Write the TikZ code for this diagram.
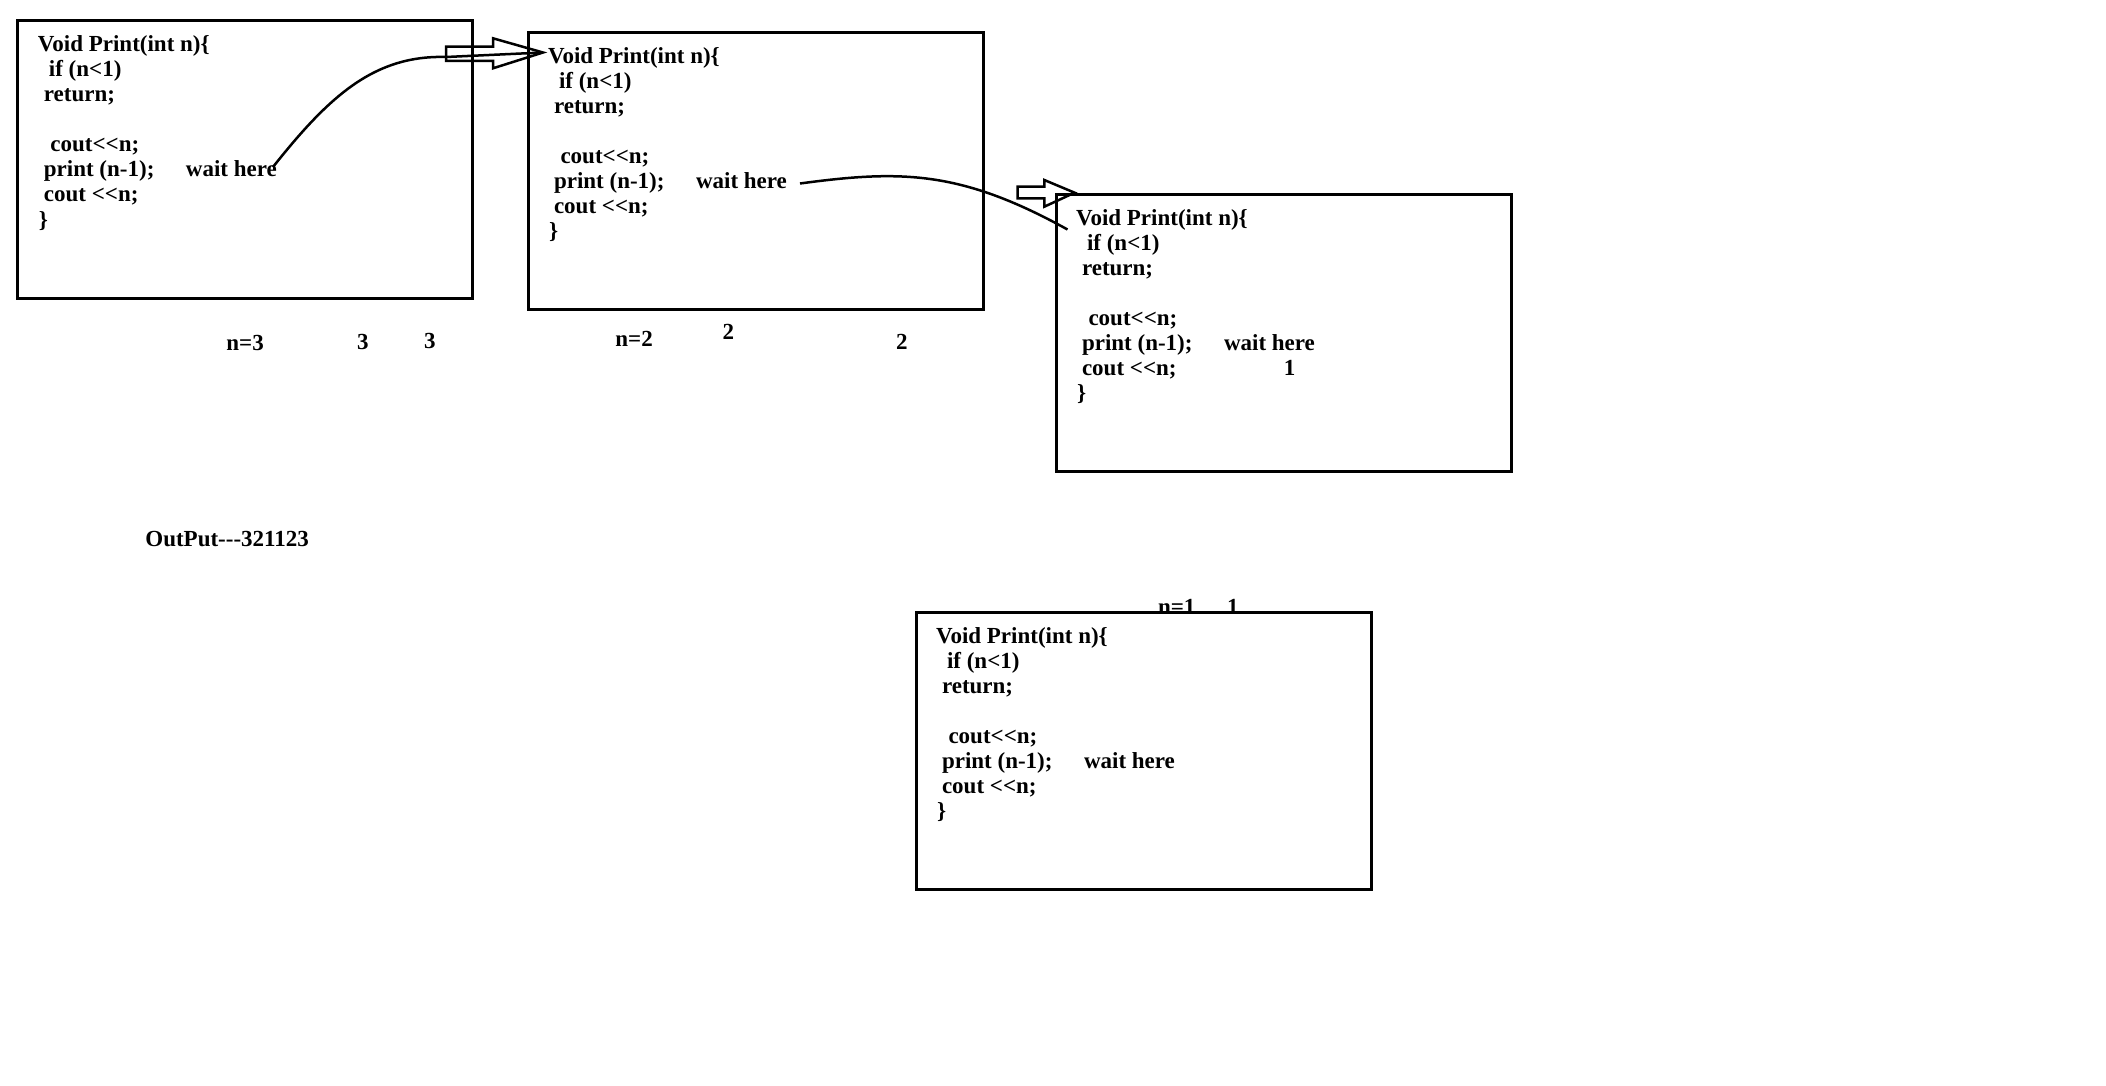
\documentclass[tikz,border=0pt]{standalone}
\usepackage{fontspec}
\newfontfamily\codefont{Liberation Serif}
\newcommand\codebox[3]{%
  \node[frame] (#1) at (#2,#3) {};
  \coordinate (#1o) at ([shift={(20,31)}]#1.north west);
  \node[code] (#1-1) at (#1o) {Void Print(int n)\{};
  \node[code] (#1-2) at ([shift={(11,25)}]#1o) {if (n<1)};
  \node[code] (#1-3) at ([shift={(6,50)}]#1o) {return;};
  \node[code] (#1-4) at ([shift={(12.5,100)}]#1o) {cout<{}<n;};
  \node[code] (#1-5) at ([shift={(6,125)}]#1o) {print (n-1);};
  \node[code] (#1-w) at ([shift={(148,125)}]#1o) {wait here};
  \node[code] (#1-6) at ([shift={(6,150)}]#1o) {cout <{}<n;};
  \node[code] (#1-7) at ([shift={(1,175)}]#1o) {\}};
}
\begin{document}
\begin{tikzpicture}[x=1pt,y=-1pt,
  frame/.style={draw, line width=3pt, minimum width=455pt, minimum height=277pt,
    inner sep=0pt, outer sep=0pt, anchor=north west},
  code/.style={anchor=base west, inner sep=0pt, outer sep=0pt,
    font=\codefont\bfseries\fontsize{23}{25}\selectfont},
  link/.style={line width=2.5pt},
  hollow/.style={draw, line width=2.5pt, line join=miter}]
\fill[white] (0,0) rectangle (2106,1086);
\useasboundingbox (0,0) rectangle (2106,1086);

\codebox{b1}{17.9}{21}
\codebox{b2}{528}{32.3}
\codebox{b3}{1056}{194.3}
\codebox{b4}{916}{612.3}

\node[code] (b3x) at ([shift={(207.8,150)}]b3o) {1};

% labels
\node[code] (l1) at (226.4,350.7) {n=3};
\node[code] (l2) at (357,349) {3};
\node[code] (l3) at (424,348.3) {3};
\node[code] (l4) at (615.4,346.7) {n=2};
\node[code] (l5) at (722.6,339) {2};
\node[code] (l6) at (896,349) {2};
\node[code] (out) at (145.4,546.7) {OutPut-{}-{}-321123};
\node[code] (l7) at (1158,614) {n=1};
\node[code] (l8) at (1227,614) {1};

% hollow arrows
\draw[hollow] (446,46.7) -- (493,46.7) -- (493,38.3) -- (543,52.5) -- (493,68.3) -- (493,61) -- (446,61) -- cycle;
\coordinate (t1) at (543,52.5);
\draw[hollow] (1017.5,186.7) -- (1044.3,186.7) -- (1044.3,180) -- (1074.6,192.7) -- (1044.3,206.7) -- (1044.3,198.3) -- (1017.5,198.3) -- cycle;

% connectors
\coordinate (s1) at (273,167);
\draw[link] (s1) .. controls (330,95) and (375,55) .. (446,57) -- (t1);
\coordinate (s2) at (800,183.5);
\coordinate (e2) at (1067.5,229.5);
\draw[link] (s2) .. controls (900,170) and (960,170) .. (e2);
\end{tikzpicture}
\end{document}
